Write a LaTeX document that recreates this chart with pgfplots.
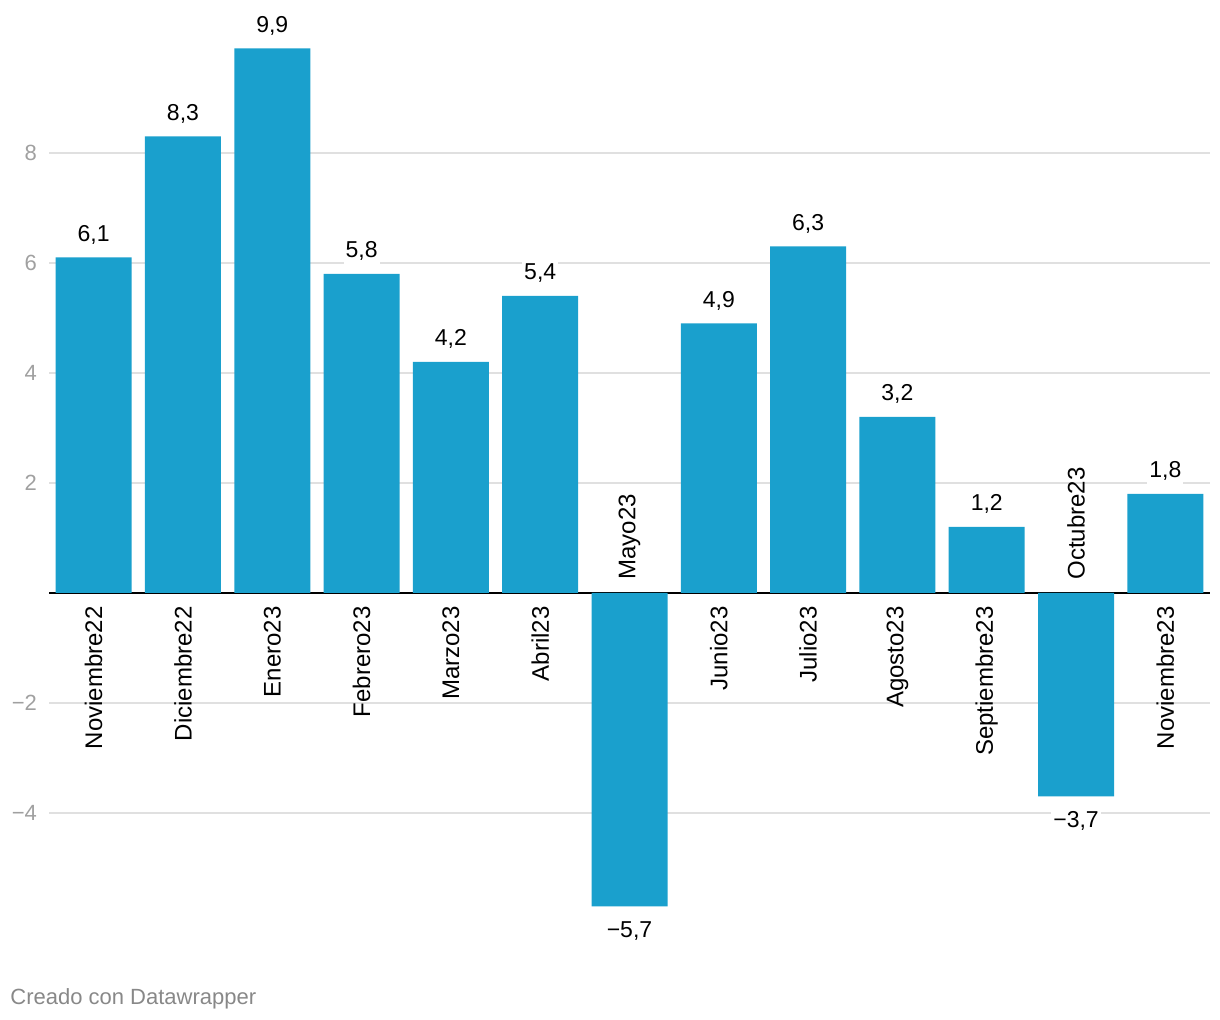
\documentclass[border=0pt]{standalone}
\usepackage{fontspec}
\setmainfont{Liberation Sans}
\usepackage{pgfplots}
\usepackage{pgfplotstable}
\pgfplotsset{compat=1.18}

\definecolor{barblue}{RGB}{26,160,205}
\definecolor{ticktxt}{RGB}{160,160,160}
\definecolor{gridc}{RGB}{224,224,224}
\definecolor{foot}{RGB}{136,136,136}

\tikzset{
    valnode/.style={font=\fontsize{11.5}{13}\selectfont, text=black, fill=white, inner xsep=1pt, inner ysep=1.5pt},
    catnode/.style={font=\fontsize{12}{14}\selectfont, text=black, rotate=90, inner xsep=6.5pt, inner ysep=0pt},
}

% x y label
\pgfplotstableread{
x y lab
0 6.1 6,1
1 8.3 8,3
2 9.9 9,9
3 5.8 5,8
4 4.2 4,2
5 5.4 5,4
6 -5.7 −5,7
7 4.9 4,9
8 6.3 6,3
9 3.2 3,2
10 1.2 1,2
11 -3.7 −3,7
12 1.8 1,8
}\valores

% category names, below the zero line (positive bars)
\pgfplotstableread{
x y lab
0 0 Noviembre22
1 0 Diciembre22
2 0 Enero23
3 0 Febrero23
4 0 Marzo23
5 0 Abril23
7 0 Junio23
8 0 Julio23
9 0 Agosto23
10 0 Septiembre23
12 0 Noviembre23
}\catpos

% category names, above the zero line (negative bars)
\pgfplotstableread{
x y lab
6 0 Mayo23
11 0 Octubre23
}\catneg

\begin{document}
\begin{tikzpicture}
\useasboundingbox (0,0) rectangle (610pt,510pt);
\begin{axis}[
    at={(24.5pt,34.75pt)}, anchor=south west,
    scale only axis,
    width=580.5pt, height=467.5pt,
    xmin=-0.5, xmax=12.5,
    ymin=-6.5, ymax=10.5,
    axis line style={draw=none},
    major tick length=0pt,
    xtick=\empty,
    ytick={-4,-2,2,4,6,8},
    yticklabels={−4,−2,2,4,6,8},
    yticklabel style={font=\fontsize{11}{13}\selectfont, text=ticktxt, xshift=-2.5pt},
    ymajorgrids,
    grid style={gridc, line width=0.8pt},
    extra y ticks={0},
    extra y tick labels={},
    extra y tick style={grid style={black, line width=1.1pt}},
    clip=false,
]
\addplot[ybar, bar width=38pt, fill=barblue, draw=none]
    table[x=x, y=y] {\valores};
% value labels above the positive bars
\addplot[draw=none, mark=none, restrict y to domain=0:20,
    point meta=explicit symbolic,
    nodes near coords,
    every node near coord/.style={valnode, anchor=south, yshift=5pt},
    ] table[x=x, y=y, meta=lab] {\valores};
% value labels below the negative bars
\addplot[draw=none, mark=none, restrict y to domain=-20:0,
    point meta=explicit symbolic,
    nodes near coords,
    every node near coord/.style={valnode, anchor=north, yshift=-6pt},
    ] table[x=x, y=y, meta=lab] {\valores};
\addplot[draw=none, mark=none,
    point meta=explicit symbolic,
    nodes near coords,
    every node near coord/.style={catnode, anchor=east},
    ] table[x=x, y=y, meta=lab] {\catpos};
\addplot[draw=none, mark=none,
    point meta=explicit symbolic,
    nodes near coords,
    every node near coord/.style={catnode, anchor=west},
    ] table[x=x, y=y, meta=lab] {\catneg};
\end{axis}
\node[anchor=base west, inner sep=0pt, text=foot, font=\fontsize{11}{13}\selectfont] at (5pt,7.5pt) {Creado con Datawrapper};
\end{tikzpicture}
\end{document}
